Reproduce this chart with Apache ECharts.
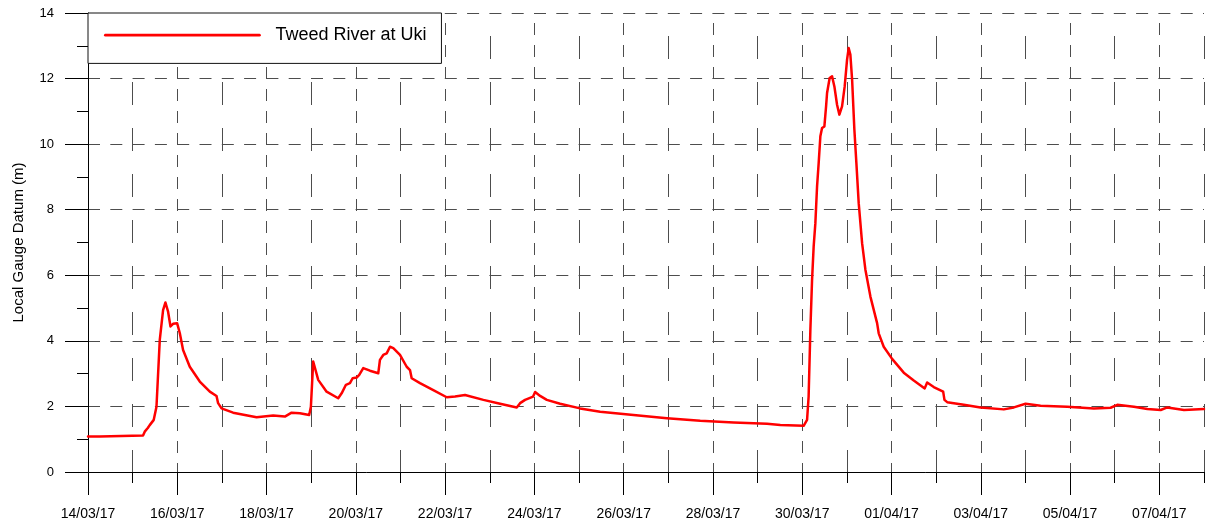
<!DOCTYPE html>
<html>
<head>
<meta charset="utf-8">
<title>Tweed River at Uki</title>
<script src="https://cdn.jsdelivr.net/npm/echarts@6/dist/echarts.min.js"></script>
<style>
  html, body { margin: 0; padding: 0; background: #fff; }
  #chart { width: 1211px; height: 528px; }
</style>
</head>
<body>
<div id="chart"></div>
<script>
// Time axis in days since 14/03/17 00:00
const dayOffsets = [
  0, 0.262, 1.233, 1.271, 1.339, 1.383, 1.406, 1.473, 1.496, 1.534,
  1.608, 1.682, 1.735, 1.794, 1.848, 1.906, 1.996, 2.056, 2.130, 2.280,
  2.504, 2.729, 2.879, 2.915, 2.991, 3.251, 3.776, 4.148, 4.410, 4.561,
  4.747, 4.955, 4.993, 5.045, 5.083, 5.157, 5.345, 5.605, 5.682, 5.778,
  5.868, 5.928, 6.018, 6.076, 6.166, 6.316, 6.502, 6.540, 6.614, 6.691,
  6.765, 6.839, 6.989, 7.139, 7.213, 7.251, 7.437, 7.735, 8.036, 8.222,
  8.446, 8.857, 9.231, 9.605, 9.679, 9.791, 9.971, 10.016, 10.128, 10.278,
  10.576, 11.024, 11.473, 12.220, 12.969, 13.715, 14.462, 15.211, 15.509, 16.031,
  16.108, 16.143, 16.182, 16.220, 16.256, 16.294, 16.332, 16.368, 16.406, 16.444,
  16.496, 16.534, 16.556, 16.614, 16.668, 16.720, 16.780, 16.832, 16.892, 16.951,
  17.004, 17.040, 17.078, 17.117, 17.168, 17.213, 17.265, 17.341, 17.415, 17.527,
  17.677, 17.713, 17.825, 18.013, 18.274, 18.498, 18.744, 18.798, 18.946, 19.157,
  19.186, 19.247, 19.619, 19.993, 20.516, 20.740, 21.002, 21.339, 21.937, 22.534,
  22.908, 23.058, 23.430, 23.731, 24.029, 24.179, 24.552, 25.000
];

// River level, metres above local gauge datum
const levels = [
  1.08, 1.08, 1.11, 1.23, 1.34, 1.43, 1.49, 1.59, 1.59, 1.99,
  4.03, 4.94, 5.17, 4.89, 4.44, 4.52, 4.54, 4.24, 3.72, 3.21,
  2.76, 2.45, 2.32, 2.10, 1.94, 1.81, 1.67, 1.72, 1.69, 1.81,
  1.79, 1.74, 1.99, 3.37, 3.32, 2.81, 2.45, 2.25, 2.40, 2.66,
  2.71, 2.86, 2.88, 2.96, 3.17, 3.09, 3.01, 3.42, 3.57, 3.62,
  3.82, 3.78, 3.57, 3.21, 3.11, 2.86, 2.71, 2.50, 2.28, 2.30,
  2.35, 2.20, 2.08, 1.97, 2.10, 2.20, 2.30, 2.44, 2.32, 2.20,
  2.08, 1.94, 1.84, 1.74, 1.64, 1.56, 1.51, 1.47, 1.43, 1.41,
  1.59, 2.30, 4.33, 5.86, 6.88, 7.59, 8.71, 9.42, 10.24, 10.49,
  10.54, 11.15, 11.56, 12.02, 12.07, 11.76, 11.20, 10.90, 11.15, 11.76,
  12.58, 12.93, 12.73, 11.97, 10.44, 9.42, 8.20, 6.98, 6.17, 5.35,
  4.54, 4.23, 3.82, 3.45, 3.03, 2.79, 2.55, 2.73, 2.59, 2.45,
  2.20, 2.13, 2.05, 1.97, 1.91, 1.97, 2.08, 2.02, 1.99, 1.94,
  1.96, 2.05, 1.99, 1.92, 1.89, 1.97, 1.89, 1.92
];

// Labels for every second day (day 0, 2, 4, ...)
const dateLabels = [
  '14/03/17', '16/03/17', '18/03/17', '20/03/17', '22/03/17', '24/03/17', '26/03/17',
  '28/03/17', '30/03/17', '01/04/17', '03/04/17', '05/04/17', '07/04/17'
];

const seriesName = 'Tweed River at Uki';
const yTitle = 'Local Gauge Datum (m)';

const FONT = "'Liberation Sans', Arial, sans-serif";
const GRID_COLOR = '#4d4d4d';
const DAYS = 25;

const chart = echarts.init(document.getElementById('chart'), null, { renderer: 'canvas' });

const points = dayOffsets.map((d, i) => [d, levels[i]]);

chart.setOption({
  backgroundColor: '#ffffff',
  animation: false,
  grid: [
    // main plotting area: 14/03 .. 08/04
    { left: 88, right: 7, top: 13, bottom: 56 },
    // helper area one day shorter, carries the two-day major ticks
    { left: 88, right: 7 + 1116 / DAYS, top: 13, bottom: 56 }
  ],
  legend: {
    data: [seriesName],
    left: 88,
    top: 13,
    orient: 'horizontal',
    backgroundColor: '#ffffff',
    borderColor: '#111',
    borderWidth: 1,
    borderRadius: 0,
    padding: [13, 15, 19, 16],
    itemWidth: 154,
    itemHeight: 23,
    itemGap: 0,
    // plain line sample, no marker
    itemStyle: { opacity: 0 },
    lineStyle: { color: '#ff0000', width: 2.8 },
    textStyle: {
      fontFamily: FONT,
      fontSize: 18,
      color: '#000',
      padding: [0, 0, 0, 11]
    }
  },
  xAxis: [
    {
      type: 'value',
      gridIndex: 0,
      min: 0,
      max: DAYS,
      interval: 1,
      axisLine: { show: true, onZero: false, lineStyle: { color: '#000', width: 1 } },
      axisTick: { show: true, inside: false, length: 11, lineStyle: { color: '#000', width: 1 } },
      axisLabel: {
        show: true,
        margin: 35,
        fontFamily: FONT,
        fontSize: 14,
        color: '#000',
        formatter: v => (v % 2 === 0 && v / 2 < dateLabels.length) ? dateLabels[v / 2] : ''
      },
      splitLine: {
        show: true,
        // only odd days are visible here; even days come from the helper axis
        lineStyle: {
          color: ['rgba(0,0,0,0)', GRID_COLOR],
          width: 1,
          type: [23, 23],
          dashOffset: 23
        }
      }
    },
    {
      type: 'value',
      gridIndex: 1,
      min: 0,
      max: DAYS - 1,
      interval: 2,
      axisLine: { show: false, onZero: false },
      axisTick: { show: true, inside: false, length: 23, lineStyle: { color: '#000', width: 1 } },
      axisLabel: { show: false },
      splitLine: {
        show: true,
        showMinLine: false,
        lineStyle: { color: GRID_COLOR, width: 1, type: [12, 10], dashOffset: 12 }
      }
    }
  ],
  yAxis: [
    {
      type: 'value',
      gridIndex: 0,
      min: 0,
      max: 14,
      interval: 2,
      name: yTitle,
      nameLocation: 'middle',
      nameGap: 62,
      nameTextStyle: { fontFamily: FONT, fontSize: 15, color: '#000' },
      axisLine: { show: true, lineStyle: { color: '#000', width: 1 } },
      axisTick: { show: true, inside: false, length: 23, lineStyle: { color: '#000', width: 1 } },
      minorTick: { show: true, splitNumber: 2, length: 11, lineStyle: { color: '#000', width: 1 } },
      minorSplitLine: { show: false },
      axisLabel: { margin: 34, fontFamily: FONT, fontSize: 13, color: '#000' },
      splitLine: {
        show: true,
        showMinLine: false,
        lineStyle: { color: GRID_COLOR, width: 1, type: [12, 10.3] }
      }
    },
    {
      type: 'value',
      gridIndex: 1,
      min: 0,
      max: 14,
      show: false,
      splitLine: { show: false }
    }
  ],
  series: [
    {
      name: seriesName,
      type: 'line',
      xAxisIndex: 0,
      yAxisIndex: 0,
      data: points,
      symbol: 'none',
      smooth: false,
      lineStyle: { color: '#ff0000', width: 2.5, join: 'round', cap: 'round' },
      itemStyle: { color: '#ff0000' },
      z: 3
    }
  ]
});
</script>
</body>
</html>
